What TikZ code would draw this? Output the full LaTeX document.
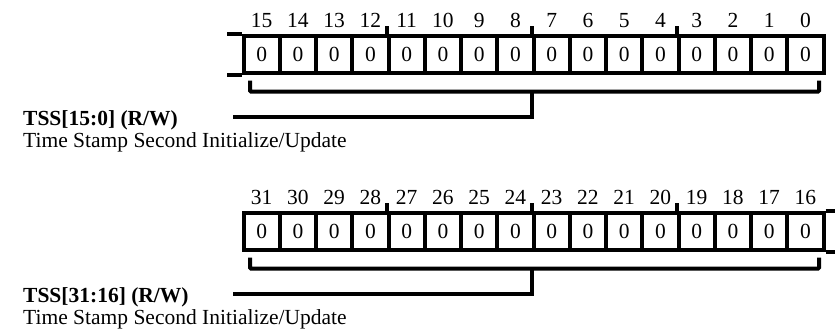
\documentclass[tikz,border=0pt]{standalone}
\usepackage{fontspec}
\setmainfont{Liberation Serif}
\usetikzlibrary{positioning, calc}
\tikzset{
    bitcell/.style = {draw, line width=4pt, minimum width=36.25pt,
                      minimum height=37pt, inner sep=0pt,
                      font=\fontsize{21.5}{24}\selectfont},
    bitnum/.style = {anchor=base, inner sep=0pt,
                     font=\fontsize{21.5}{24}\selectfont},
    regline/.style = {line width=4pt},
    fieldname/.style = {anchor=base west, inner sep=0pt,
                        font=\bfseries\fontsize{21.5}{24}\selectfont},
    fielddesc/.style = {anchor=base west, inner sep=0pt,
                        font=\fontsize{21.5}{24}\selectfont},
}

\begin{document}
\begin{tikzpicture}[x=1pt, y=-1pt]
        \useasboundingbox (0,0) rectangle (835,330);
        % Lower word: bits 15..0
        \foreach \b in {0,...,15} {
            \node[bitcell] (c\b) at ({261.625+36.25*(15-\b)}, 54) {0};
            \node[bitnum] (n\b) at ({261.625+36.25*(15-\b)}, 27.5) {\b};
        }
        % Nibble ticks and continuation stub
        \foreach \b in {11,7,3}
            \draw[regline] (c\b.north west) -- ++(0,-8);
        \draw[regline] (c15.north west) -- ++(-14.5,0);
        \draw[regline] (c15.south west) -- ++(-14.5,0);
        % Field bracket
        \coordinate (lotap) at ($(c7.south west)+(0,17)$);
        \coordinate (loend) at (233,117);
        \draw[regline, rounded corners=1pt]
              ($(c15.south west)+(8.5,6)$) |- ($(c0.south east)+(-6.5,17)$)
              -- ($(c0.south east)+(-6.5,6)$);
        \draw[regline] (lotap) |- (loend);
        \node[fieldname] (lotitle) at (23,125) {TSS[15:0] (R/W)};
        \node[fielddesc] (lodesc) at (23,147) {Time Stamp Second Initialize/Update};

        % Upper word: bits 31..16
        \foreach \b in {16,...,31} {
            \node[bitcell] (c\b) at ({261.625+36.25*(31-\b)}, 231) {0};
            \node[bitnum] (n\b) at ({261.625+36.25*(31-\b)}, 204.5) {\b};
        }
        \foreach \b in {27,23,19}
            \draw[regline] (c\b.north west) -- ++(0,-8);
        \draw[regline] (c16.north east) -- ++(14,0);
        \draw[regline] (c16.south east) -- ++(14,0);
        % Field bracket
        \coordinate (hitap) at ($(c23.south west)+(0,17)$);
        \coordinate (hiend) at (233,294);
        \draw[regline, rounded corners=1pt]
              ($(c31.south west)+(8.5,6)$) |- ($(c16.south east)+(-6.5,17)$)
              -- ($(c16.south east)+(-6.5,6)$);
        \draw[regline] (hitap) |- (hiend);
        \node[fieldname] (hititle) at (23,302) {TSS[31:16] (R/W)};
        \node[fielddesc] (hidesc) at (23,324) {Time Stamp Second Initialize/Update};
\end{tikzpicture}
\end{document}
